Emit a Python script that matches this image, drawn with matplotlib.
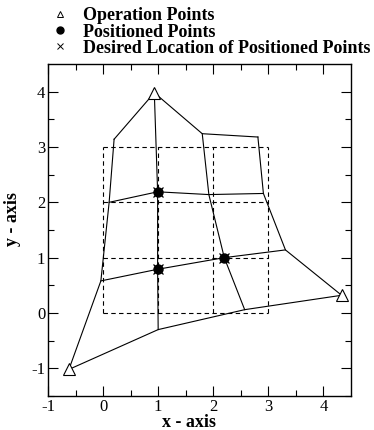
import numpy as np
import matplotlib
matplotlib.use('Agg')
import matplotlib.pyplot as plt
from matplotlib.lines import Line2D

# mesh nodes (rows bottom to top, columns left to right)
mesh_x = np.array([[-0.62, 1.00, 2.57, 4.33],
                   [-0.04, 0.99, 2.20, 3.31],
                   [0.11, 0.99, 1.92, 2.91],
                   [0.20, 0.93, 1.80, 2.81]])
mesh_y = np.array([[-1.02, -0.30, 0.06, 0.32],
                   [0.58, 0.79, 1.00, 1.14],
                   [2.00, 2.19, 2.14, 2.16],
                   [3.14, 3.98, 3.24, 3.18]])

# operation points (triangles)
op_x = [-0.62, 0.93, 4.33]
op_y = [-1.02, 3.98, 0.32]

# positioned points (filled circles)
pos_x = [0.99, 0.99, 2.20]
pos_y = [0.79, 2.19, 1.00]

# desired location of positioned points (crosses)
des_x = [0.99, 0.99, 2.20]
des_y = [0.79, 2.19, 1.00]

# dashed reference grid
grid_vals = [0, 1, 2, 3]

xticks = [-1, 0, 1, 2, 3, 4]
yticks = [-1, 0, 1, 2, 3, 4]

plt.rcParams['font.family'] = ['Liberation Serif', 'DejaVu Serif']
plt.rcParams['axes.unicode_minus'] = False

fig = plt.figure(figsize=(3.74, 4.30), dpi=100)
ax = fig.add_axes([0.1283, 0.0791, 0.8102, 0.7721])

# dashed grid
for g in grid_vals:
    ax.plot([g, g], [grid_vals[0], grid_vals[-1]], color='black', lw=0.8, ls=(0, (4, 3)))
    ax.plot([grid_vals[0], grid_vals[-1]], [g, g], color='black', lw=0.8, ls=(0, (4, 3)))

# mesh rows and columns
for r in range(mesh_x.shape[0]):
    ax.plot(mesh_x[r], mesh_y[r], color='black', lw=0.8)
for c in range(mesh_x.shape[1]):
    ax.plot(mesh_x[:, c], mesh_y[:, c], color='black', lw=0.8)

ax.plot(des_x, des_y, 'x', color='black', ms=7, mew=0.9, ls='none')
ax.plot(pos_x, pos_y, 'o', color='black', ms=6.5, ls='none')
ax.plot(op_x, op_y, '^', mfc='white', mec='black', ms=8.5, mew=0.8, ls='none')

ax.set_xlim(-1, 4.5)
ax.set_ylim(-1.5, 4.5)
ax.set_xticks(xticks)
ax.set_yticks(yticks)
ax.set_xticks(np.arange(-0.5, 4.5, 1.0), minor=True)
ax.set_yticks(np.arange(-1.5, 4.5, 1.0), minor=True)
ax.tick_params(which='both', direction='in', top=True, right=True, labelsize=12, width=0.8)
ax.tick_params(which='major', length=7)
ax.tick_params(which='minor', length=4)
ax.tick_params(axis='y', pad=2)
ax.tick_params(axis='x', pad=2.5)
for s in ax.spines.values():
    s.set_linewidth(1.0)

ax.set_xlabel('x - axis', fontsize=13, fontweight='bold')
ax.set_ylabel('y - axis', fontsize=13, fontweight='bold')
ax.xaxis.set_label_coords(0.465, -0.054)
ax.yaxis.set_label_coords(-0.088, 0.533)

handles = [
    Line2D([], [], marker='^', mfc='white', mec='black', ms=5, mew=0.7, ls='none'),
    Line2D([], [], marker='o', color='black', ms=5, ls='none'),
    Line2D([], [], marker='x', color='black', ms=5, mew=0.7, ls='none'),
]
labels = ['Operation Points', 'Positioned Points', 'Desired Location of Positioned Points']
fig.legend(handles, labels, loc='upper left', bbox_to_anchor=(0.102, 1.012), frameon=False,
           prop={'weight': 'bold', 'size': 13}, handlelength=1.0, handletextpad=0.8,
           labelspacing=-0.05, borderpad=0.2)

fig.savefig('out.png', dpi=100)
